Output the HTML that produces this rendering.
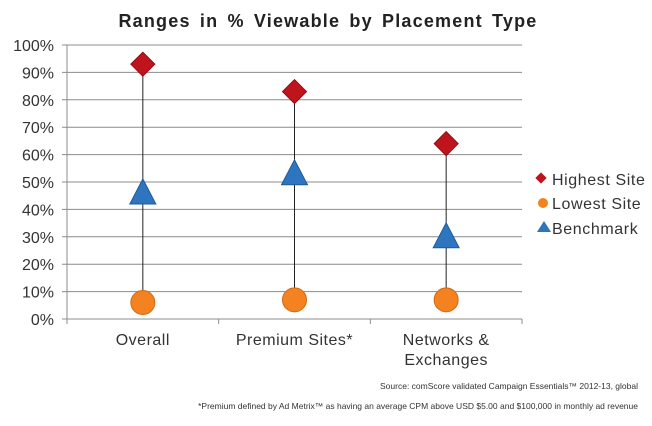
<!DOCTYPE html>
<html><head><meta charset="utf-8"><style>
body{margin:0;background:#fff;}
svg text{font-family:"Liberation Sans",Arial,sans-serif;}
</style></head><body>
<svg width="652" height="421" id="c">
<text x="328" y="27" text-anchor="middle" font-size="18" font-weight="bold" fill="#222" letter-spacing="1.2" word-spacing="3">Ranges in % Viewable by Placement Type</text>
<g id="grid"></g>
<g id="yt"></g>
<g id="xt"></g>
<g id="marks"></g>
<g>
<g><rect x="537" y="174" width="8" height="8" fill="#c0141c" transform="rotate(45 541 178)"/><text x="552" y="185" font-size="16" fill="#333" letter-spacing="0.6">Highest Site</text></g>
<g><circle cx="543" cy="203" r="5" fill="#f58220"/><text x="552" y="209" font-size="16" fill="#333" letter-spacing="0.6">Lowest Site</text></g>
<g><polygon points="537,232 544,221 551,232" fill="#2e75c0"/><text x="552" y="234" font-size="16" fill="#333" letter-spacing="0.6">Benchmark</text></g>
</g>
<text x="638" y="389" text-anchor="end" font-size="8.5" fill="#333">Source: comScore validated Campaign Essentials™ 2012-13, global</text>
<text x="638" y="409" text-anchor="end" font-size="8.5" fill="#333">*Premium defined by Ad Metrix™ as having an average CPM above USD $5.00 and $100,000 in monthly ad revenue</text>
</svg>
<script>
const categories=[["Overall"],["Premium Sites*"],["Networks &","Exchanges"]];
const highest=[93,83,64];
const lowest=[6,7,7];
const benchmark=[46,53,30];
const yTicks=[0,10,20,30,40,50,60,70,80,90,100];
const NS="http://www.w3.org/2000/svg";
const X0=67,X1=522,Y0=319,Y1=45;
const y=v=>Y0-(v/100)*(Y0-Y1);
const bw=(X1-X0)/categories.length;
const x=i=>X0+bw*(i+0.5);
function mk(t,a,p){const e=document.createElementNS(NS,t);for(const k in a)e.setAttribute(k,a[k]);p.appendChild(e);return e;}
const grid=document.getElementById('grid'),yt=document.getElementById('yt'),xt=document.getElementById('xt'),marks=document.getElementById('marks');
yTicks.forEach(v=>{
 const l=mk('line',{x1:X0-5,x2:X1,y1:y(v),y2:y(v),stroke:'#8c8c8c','stroke-width':1},grid);
 
 
 const t=mk('text',{x:X0-13,y:y(v)+6,'text-anchor':'end','font-size':16,fill:'#333'},yt);
 t.textContent=v+'%';
 
 
});
const ax=mk('line',{x1:X0,x2:X0,y1:Y1,y2:Y0+5,stroke:'#8c8c8c'},grid);


for(let i=0;i<=categories.length;i++){
 const tk=mk('line',{x1:X0+bw*i,x2:X0+bw*i,y1:Y0,y2:Y0+5,stroke:'#8c8c8c'},grid);
 
 
}
categories.forEach((c,i)=>{
 c.forEach((s,j)=>{
  const t=mk('text',{x:x(i),y:345+j*20,'text-anchor':'middle','font-size':16,fill:'#333','letter-spacing':0.5},xt);
  t.textContent=s;
  
  
 });
 const cx=x(i);
 const ln=mk('line',{x1:cx,x2:cx,y1:y(highest[i]),y2:y(lowest[i]),stroke:'#222','stroke-width':1},marks);
 
 
 const c1=mk('circle',{cx:cx,cy:y(lowest[i]),r:12,fill:'#f58220',stroke:'#d06a10'},marks);
 
 
 const by=y(benchmark[i]);
 const tr=mk('polygon',{points:`${cx-13},${by+11} ${cx},${by-14} ${cx+13},${by+11}`,fill:'#2e75c0',stroke:'#1f5a9a'},marks);
 
 
 const hy=y(highest[i]);
 const d=mk('polygon',{points:`${cx},${hy-12} ${cx+12},${hy} ${cx},${hy+12} ${cx-12},${hy}`,fill:'#c0141c',stroke:'#8e0e14'},marks);
 
 
});
</script>
</body></html>
